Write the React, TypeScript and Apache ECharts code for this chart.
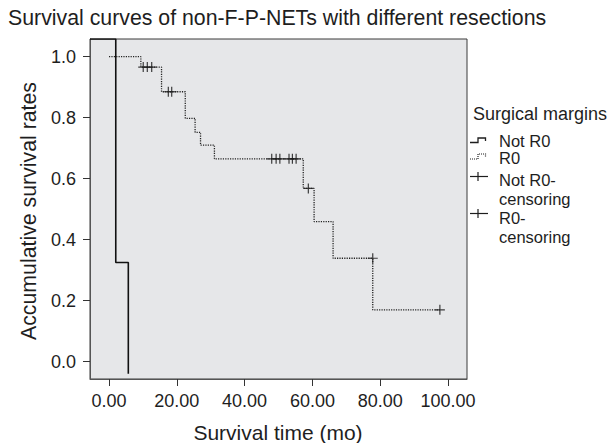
import React, { useEffect, useRef } from "react";
import * as echarts from "echarts";

// ---- data ----
const xTickValues = [0, 20, 40, 60, 80, 100];
const yTickValues = [0, 0.2, 0.4, 0.6, 0.8, 1.0];

// Not R0 step curve (event times, survival after each step)
const notR0Times = [-5.6, 2.0, 5.7];
const notR0Surv = [1.058, 0.325, -0.04];

// R0 step curve
const r0Times = [0, 9.4, 15.5, 22.5, 25.4, 27.0, 31.1, 57.3, 60.5, 66.1, 77.8, 97.6];
const r0Surv = [1.0, 0.966, 0.885, 0.798, 0.752, 0.71, 0.665, 0.568, 0.459, 0.339, 0.17, 0.17];

// R0 censoring marks
const r0CensorTimes = [10.1, 11.3, 12.6, 17.5, 18.5, 48.0, 49.3, 50.4, 53.1, 54.1, 55.2, 58.8, 77.8, 97.6];
const r0CensorSurv = [0.966, 0.966, 0.966, 0.885, 0.885, 0.665, 0.665, 0.665, 0.665, 0.665, 0.665, 0.568, 0.339, 0.17];

const titleText = "Survival curves of non-F-P-NETs with different resections";
const xTitle = "Survival time (mo)";
const yTitle = "Accumulative survival rates";
const legendTitle = "Surgical margins";
const legendLabels = ["Not R0", "R0", "Not R0-", "censoring", "R0-", "censoring"];

const FONT = "'Liberation Sans', Arial, Helvetica, sans-serif";
const INK = "#1e1e1e";
const PLUS = "path://M4.4,0h1.2v4.4h4.4v1.2h-4.4v4.4h-1.2v-4.4h-4.4v-1.2h4.4z";

export default function App() {
  const ref = useRef<HTMLDivElement>(null);
  useEffect(() => {
    document.body.style.margin = "0";
    if (!ref.current) return;
    const chart = echarts.init(ref.current, null, { renderer: "svg" });

    const notR0Data = notR0Times.map((t, i) => [t, notR0Surv[i]]);
    const r0Data = r0Times.map((t, i) => [t, r0Surv[i]]);
    const censorData = r0CensorTimes.map((t, i) => [t, r0CensorSurv[i]]);

    const text = (x: number, y: number, s: string, size: number, extra: any = {}) => ({
      type: "text",
      x,
      y,
      silent: true,
      ...extra,
      style: {
        text: s,
        fontSize: size,
        fontFamily: FONT,
        fill: INK,
        verticalAlign: "middle",
        align: "left",
        ...(extra.style || {}),
      },
    });

    const lx = 499;
    const ls = 16.5;
    const graphics: any[] = [
      text(8, 18, titleText, 21.3),
      text(278, 432, xTitle, 21),
      text(29, 211, yTitle, 21.3, { rotation: Math.PI / 2, style: { align: "center" } }),
      text(473, 114, legendTitle, 18),
      text(lx, 140.5, legendLabels[0], ls),
      text(lx, 158, legendLabels[1], ls),
      text(lx, 179.5, legendLabels[2], ls),
      text(lx, 198.5, legendLabels[3], ls),
      text(lx, 217.5, legendLabels[4], ls),
      text(lx, 237, legendLabels[5], ls),
      // legend symbols
      {
        type: "polyline",
        silent: true,
        shape: { points: [[470, 142.5], [478, 142.5], [478, 138], [485.5, 138], [485.5, 141]] },
        style: { stroke: INK, lineWidth: 1.3, fill: null },
      },
      {
        type: "polyline",
        silent: true,
        shape: { points: [[470, 159], [478, 159], [478, 154], [485.5, 154], [485.5, 157]] },
        style: { stroke: INK, lineWidth: 1.2, fill: null, lineDash: [1, 1] },
      },
      {
        type: "line",
        silent: true,
        shape: { x1: 470, y1: 176.5, x2: 488, y2: 176.5 },
        style: { stroke: INK, lineWidth: 1.2 },
      },
      {
        type: "line",
        silent: true,
        shape: { x1: 478, y1: 172, x2: 478, y2: 181 },
        style: { stroke: INK, lineWidth: 1.2 },
      },
      {
        type: "line",
        silent: true,
        shape: { x1: 470, y1: 213.5, x2: 488, y2: 213.5 },
        style: { stroke: INK, lineWidth: 1.2 },
      },
      {
        type: "line",
        silent: true,
        shape: { x1: 478, y1: 209, x2: 478, y2: 218 },
        style: { stroke: INK, lineWidth: 1.2 },
      },
    ];
    // center the x-axis title
    graphics[1].style.align = "center";

    chart.setOption({
      animation: false,
      grid: {
        left: 90,
        top: 39,
        right: 144,
        bottom: 64,
        show: true,
        backgroundColor: "#e6e7e9",
        borderColor: "#3a3a3a",
        borderWidth: 1,
        outerBoundsMode: "none",
      },
      xAxis: {
        type: "value",
        min: -5.6,
        max: 105.6,
        splitLine: { show: false },
        axisLine: { show: true, onZero: false, lineStyle: { color: "#555", width: 1 } },
        axisTick: { show: true, length: 7, customValues: xTickValues, lineStyle: { color: "#333" } },
        axisLabel: {
          customValues: xTickValues,
          formatter: (v: number) => v.toFixed(2),
          fontSize: 18,
          fontFamily: FONT,
          color: INK,
          margin: 13,
        },
      },
      yAxis: {
        type: "value",
        min: -0.057,
        max: 1.058,
        splitLine: { show: false },
        axisLine: { show: true, onZero: false, lineStyle: { color: "#555", width: 1 } },
        axisTick: { show: true, length: 7, customValues: yTickValues, lineStyle: { color: "#333" } },
        axisLabel: {
          customValues: yTickValues,
          formatter: (v: number) => v.toFixed(1),
          fontSize: 18,
          fontFamily: FONT,
          color: INK,
          margin: 14,
        },
      },
      series: [
        {
          name: "Not R0",
          type: "line",
          step: "end",
          data: notR0Data,
          showSymbol: false,
          symbol: "none",
          lineStyle: { color: "#111", width: 1.6 },
          silent: true,
        },
        {
          name: "R0",
          type: "line",
          step: "end",
          data: r0Data,
          showSymbol: false,
          symbol: "none",
          lineStyle: { color: "#222", width: 1.3, type: [1.2, 1.2] },
          silent: true,
        },
        {
          name: "R0-censoring",
          type: "scatter",
          data: censorData,
          symbol: PLUS,
          symbolSize: 10,
          itemStyle: { color: "#111" },
          silent: true,
        },
      ],
      graphic: graphics,
    });
    return () => chart.dispose();
  }, []);
  return <div ref={ref} style={{ width: 611, height: 443 }} />;
}
